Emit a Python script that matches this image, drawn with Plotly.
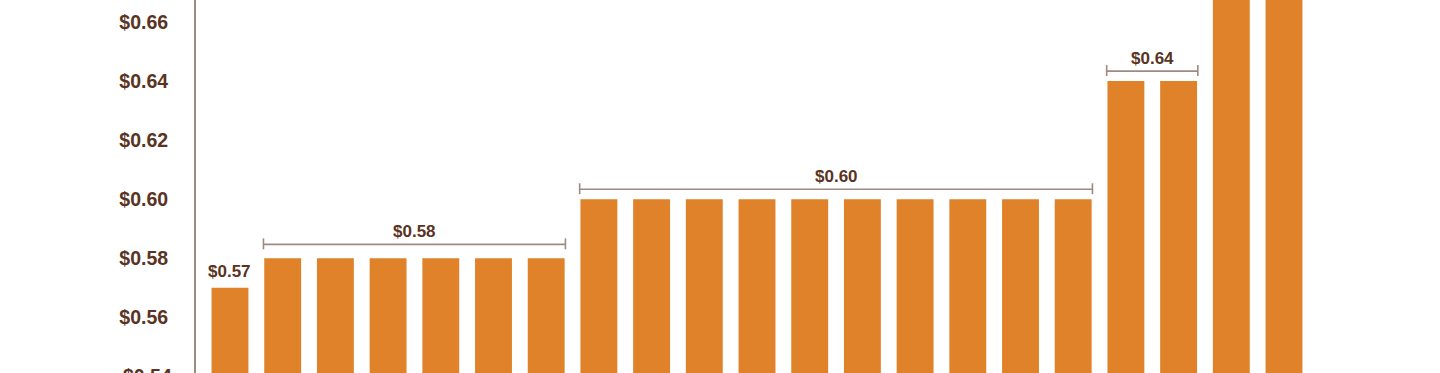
import plotly.graph_objects as go

# ---- data ----
periods = [f"P{i}" for i in range(1, 22)]
dividends = [0.57,
             0.58, 0.58, 0.58, 0.58, 0.58, 0.58,
             0.60, 0.60, 0.60, 0.60, 0.60, 0.60, 0.60, 0.60, 0.60, 0.60,
             0.64, 0.64,
             0.68, 0.68]
single_labels = [(0, "$0.57")]
# groups: (first index, last index, label)
groups = [(1, 6, "$0.58"), (7, 16, "$0.60"), (17, 18, "$0.64")]
y_ticks = [0.54, 0.56, 0.58, 0.60, 0.62, 0.64, 0.66]

# ---- style ----
BAR = "#DF8229"
TEXT = "#5A3322"
AXIS = "#A08A80"
FONT = "Liberation Sans, Arial, Helvetica, sans-serif"
bracket_offsets = [14, 10, 10]
y_range = [0.54118, 0.66745]
x_range = [-0.645, 20.645]

fig = go.Figure()
fig.add_trace(go.Bar(
    x=list(range(len(periods))), y=dividends,
    marker=dict(color=BAR, line=dict(width=0)),
    hovertext=periods, hoverinfo="text+y",
))

shapes = []
annotations = []
for (i, txt) in single_labels:
    annotations.append(dict(x=i, y=dividends[i], xref="x", yref="y", text=f"<b>{txt}</b>",
                            showarrow=False, yanchor="bottom", yshift=5,
                            font=dict(family=FONT, size=17, color=TEXT)))

for (a, b, txt), off in zip(groups, bracket_offsets):
    v = dividends[a]
    x0, x1 = a - 0.365, b + 0.365
    line = dict(color=AXIS, width=1.6)
    shapes.append(dict(type="line", xref="x", yref="y", ysizemode="pixel", yanchor=v,
                       x0=x0, x1=x1, y0=off, y1=off, line=line))
    for xx in (x0, x1):
        shapes.append(dict(type="line", xref="x", yref="y", ysizemode="pixel", yanchor=v,
                           x0=xx, x1=xx, y0=off - 5, y1=off + 6, line=line))
    annotations.append(dict(x=(a + b) / 2, y=v, xref="x", yref="y", text=f"<b>{txt}</b>",
                            showarrow=False, yanchor="middle", yshift=off + 13,
                            font=dict(family=FONT, size=17, color=TEXT)))

# partially visible bottom tick label (below the visible range)
for t in y_ticks:
    if t < y_range[0]:
        py = (t - y_range[0]) / (y_range[1] - y_range[0])
        annotations.append(dict(x=0, y=py, xref="paper", yref="paper",
                                text=f"<b>${t:.2f}</b>", showarrow=False,
                                xanchor="right", yanchor="middle", xshift=-22,
                                font=dict(family=FONT, size=19.5, color=TEXT)))

fig.update_layout(
    width=1440, height=373,
    margin=dict(l=196, r=122, t=0, b=0),
    paper_bgcolor="white", plot_bgcolor="white",
    bargap=0.3, showlegend=False,
    shapes=shapes, annotations=annotations,
    xaxis=dict(range=x_range, showticklabels=False, showgrid=False, zeroline=False,
               showline=False, ticks=""),
    yaxis=dict(range=y_range, tickvals=[t for t in y_ticks if t >= y_range[0]],
               ticktext=[f"<b>${t:.2f}</b>" for t in y_ticks if t >= y_range[0]],
               showgrid=False, zeroline=False, showline=True, linecolor=AXIS, linewidth=2,
               ticks="", ticklabelstandoff=22,
               tickfont=dict(family=FONT, size=19.5, color=TEXT)),
)

fig.write_html("out.html")
